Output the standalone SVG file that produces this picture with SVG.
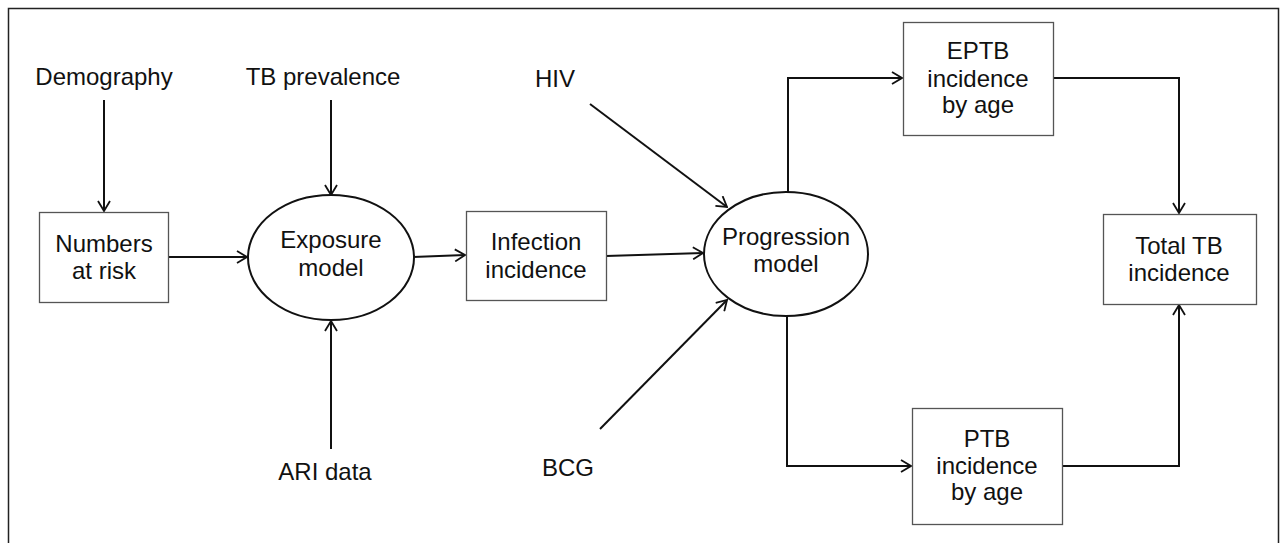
<svg xmlns="http://www.w3.org/2000/svg" width="1288" height="543" viewBox="0 0 1288 543">
<style>
text{font-family:"Liberation Sans",Arial,sans-serif;font-size:24px;fill:#111;text-anchor:middle}
.box{fill:#fff;stroke:#555;stroke-width:1.3}
.ell{fill:#fff;stroke:#111;stroke-width:2}
.c{fill:none;stroke:#111;stroke-width:2}
</style>
<defs>
<marker id="ah" viewBox="0 0 12 14" refX="11" refY="7" markerWidth="12" markerHeight="14" markerUnits="userSpaceOnUse" orient="auto">
<path d="M1,1 L11,7 L1,13" fill="none" stroke="#111" stroke-width="1.8"/>
</marker>
</defs>
<rect width="1288" height="543" fill="#fff"/>
<path d="M8.5,543 V8.5 H1278.5 V543" fill="none" stroke="#222" stroke-width="1.5"/>
<g id="connectors">
<path class="c" d="M104,100 V211" marker-end="url(#ah)"/>
<path class="c" d="M331,100 V195" marker-end="url(#ah)"/>
<path class="c" d="M168,257 H247" marker-end="url(#ah)"/>
<path class="c" d="M331,449 V321" marker-end="url(#ah)"/>
<path class="c" d="M413,257 L465,255" marker-end="url(#ah)"/>
<path class="c" d="M606,256 L703,253" marker-end="url(#ah)"/>
<path class="c" d="M590,104 L727,207" marker-end="url(#ah)"/>
<path class="c" d="M600,429 L727,300" marker-end="url(#ah)"/>
<path class="c" d="M788,192 V78 H902" marker-end="url(#ah)"/>
<path class="c" d="M1053,78 H1179 V213" marker-end="url(#ah)"/>
<path class="c" d="M787,316 V466 H911" marker-end="url(#ah)"/>
<path class="c" d="M1062,466 H1179 V305" marker-end="url(#ah)"/>
</g>
<g id="demography"><text x="104" y="85">Demography</text></g>
<g id="tb-prevalence"><text x="323" y="85">TB prevalence</text></g>
<g id="hiv"><text x="555" y="87">HIV</text></g>
<g id="ari-data"><text x="325" y="480">ARI data</text></g>
<g id="bcg"><text x="568" y="476">BCG</text></g>
<g id="numbers-at-risk"><rect class="box" x="39.5" y="212.5" width="129" height="90"/><text x="104" y="252">Numbers</text><text x="104" y="279">at risk</text></g>
<g id="exposure-model"><ellipse class="ell" cx="331" cy="257.5" rx="83" ry="62.5"/><text x="331" y="248">Exposure</text><text x="331" y="276">model</text></g>
<g id="infection-incidence"><rect class="box" x="466.5" y="211.5" width="140" height="89"/><text x="536" y="250">Infection</text><text x="536" y="278">incidence</text></g>
<g id="progression-model"><ellipse class="ell" cx="786" cy="254" rx="82" ry="62"/><text x="786" y="245">Progression</text><text x="786" y="272">model</text></g>
<g id="eptb"><rect class="box" x="903.5" y="22.5" width="150" height="113"/><text x="978" y="59">EPTB</text><text x="978" y="87">incidence</text><text x="978" y="113">by age</text></g>
<g id="total-tb"><rect class="box" x="1103.5" y="214.5" width="153" height="90"/><text x="1179" y="254">Total TB</text><text x="1179" y="281">incidence</text></g>
<g id="ptb"><rect class="box" x="912.5" y="408.5" width="150" height="116"/><text x="987" y="447">PTB</text><text x="987" y="474">incidence</text><text x="987" y="500">by age</text></g>
</svg>
